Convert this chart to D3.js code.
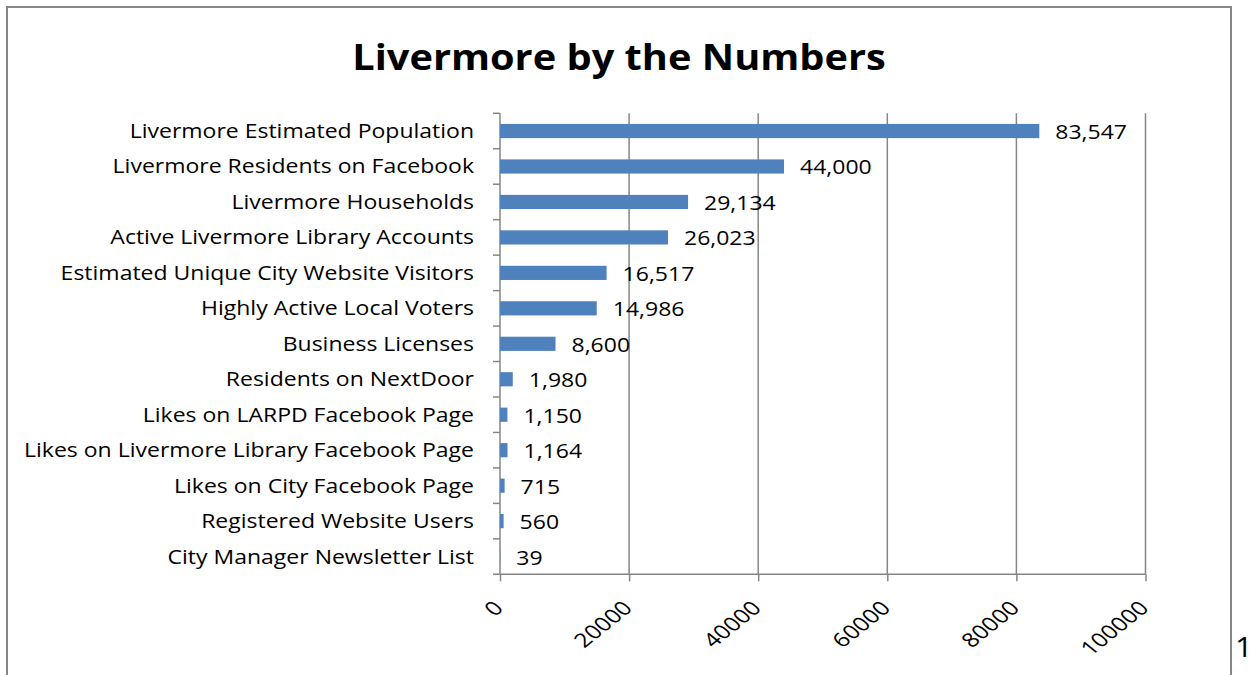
<!DOCTYPE html>
<html>
<head>
<meta charset="utf-8">
<script src="https://cdn.jsdelivr.net/npm/d3@7"></script>
<style>
  html, body { margin: 0; padding: 0; background: #fff; }
  svg { display: block; }
  text { font-family: "Open Sans", Lato, sans-serif; fill: #000; }
</style>
</head>
<body>
<svg id="chart" width="1253" height="675"></svg>
<script>
// Livermore community reach figures
const categories = [
  "Livermore Estimated Population",
  "Livermore Residents on Facebook",
  "Livermore Households",
  "Active Livermore Library Accounts",
  "Estimated Unique City Website Visitors",
  "Highly Active Local Voters",
  "Business Licenses",
  "Residents on NextDoor",
  "Likes on LARPD Facebook Page",
  "Likes on Livermore Library Facebook Page",
  "Likes on City Facebook Page",
  "Registered Website Users",
  "City Manager Newsletter List"
];
const values = [83547, 44000, 29134, 26023, 16517, 14986, 8600, 1980, 1150, 1164, 715, 560, 39];
const xTicks = [0, 20000, 40000, 60000, 80000, 100000];
const title = "Livermore by the Numbers";

const svg = d3.select("#chart");
const gray = "#868686";
const barColor = "#4F81BD";
const font = "'Open Sans', Lato, sans-serif";
const stretch = 1.15;   // horizontal text stretch of the page layout

// Outer frame
svg.append("rect")
  .attr("x", 7).attr("y", 7)
  .attr("width", 1224).attr("height", 700)
  .attr("fill", "none").attr("stroke", gray).attr("stroke-width", 2);

const plot = { left: 500, right: 1145.5, top: 113.3, bottom: 574.3 };

const x = d3.scaleLinear().domain([0, 100000]).range([plot.left, plot.right]);
const y = d3.scaleBand().domain(categories).range([plot.top, plot.bottom]).paddingInner(0.6).paddingOuter(0.3);
const yStep = d3.scaleBand().domain(categories).range([plot.top, plot.bottom]);

// Title
svg.append("text")
  .attr("transform", `translate(619,69.5) scale(1.09,1)`)
  .attr("text-anchor", "middle")
  .attr("font-weight", "bold")
  .attr("font-size", 36.5)
  .text(title);

// Vertical gridlines
svg.append("g").selectAll("line")
  .data(xTicks.filter(d => d > 0))
  .join("line")
  .attr("x1", d => x(d)).attr("x2", d => x(d))
  .attr("y1", plot.top).attr("y2", plot.bottom)
  .attr("stroke", gray).attr("stroke-width", 1.5);

// X axis
const xAxis = svg.append("g")
  .attr("transform", `translate(0,${plot.bottom})`)
  .call(d3.axisBottom(x).tickValues(xTicks).tickFormat(d3.format("d")).tickSize(7).tickSizeOuter(0));
xAxis.select(".domain").attr("stroke", gray).attr("stroke-width", 1.5)
  .attr("d", `M${plot.left - 7},0H${plot.right}`);
xAxis.selectAll(".tick line").attr("stroke", gray).attr("stroke-width", 1.5);
xAxis.selectAll(".tick text")
  .attr("font-family", font)
  .attr("font-size", 19.5)
  .attr("fill", "#000")
  .attr("text-anchor", "end")
  .attr("dy", null)
  .attr("y", 0)
  .attr("transform", `translate(4,35) scale(1.25,1) rotate(-45)`);

// Y axis: line plus boundary ticks between categories
const yAxis = svg.append("g");
yAxis.append("line")
  .attr("x1", plot.left).attr("x2", plot.left)
  .attr("y1", plot.top).attr("y2", plot.bottom)
  .attr("stroke", gray).attr("stroke-width", 1.5);
yAxis.selectAll("line.tk")
  .data(categories)
  .join("line")
  .attr("class", "tk")
  .attr("x1", plot.left - 7).attr("x2", plot.left)
  .attr("y1", d => yStep(d)).attr("y2", d => yStep(d))
  .attr("stroke", gray).attr("stroke-width", 1.5);

// Category labels
svg.append("g").selectAll("text")
  .data(categories)
  .join("text")
  .attr("transform", d => `translate(${plot.left - 26},${yStep(d) + yStep.bandwidth() / 2}) scale(${stretch},1)`)
  .attr("dy", "0.35em")
  .attr("text-anchor", "end")
  .attr("font-size", 20)
  .text(d => d);

// Bars
svg.append("g").selectAll("rect")
  .data(categories.map((c, i) => ({ c, v: values[i] })))
  .join("rect")
  .attr("x", x(0))
  .attr("y", d => y(d.c))
  .attr("width", d => x(d.v) - x(0))
  .attr("height", y.bandwidth())
  .attr("fill", barColor);

// Value labels
const fmt = d3.format(",");
svg.append("g").selectAll("text")
  .data(categories.map((c, i) => ({ c, v: values[i] })))
  .join("text")
  .attr("transform", d => `translate(${x(d.v) + 16},${yStep(d.c) + yStep.bandwidth() / 2 + 1}) scale(${stretch},1)`)
  .attr("dy", "0.35em")
  .attr("font-size", 20)
  .text(d => fmt(d.v));

// Page number
svg.append("text")
  .attr("transform", `translate(1235,657) scale(${stretch},1)`)
  .attr("font-size", 27)
  .text("1");
</script>
</body>
</html>
